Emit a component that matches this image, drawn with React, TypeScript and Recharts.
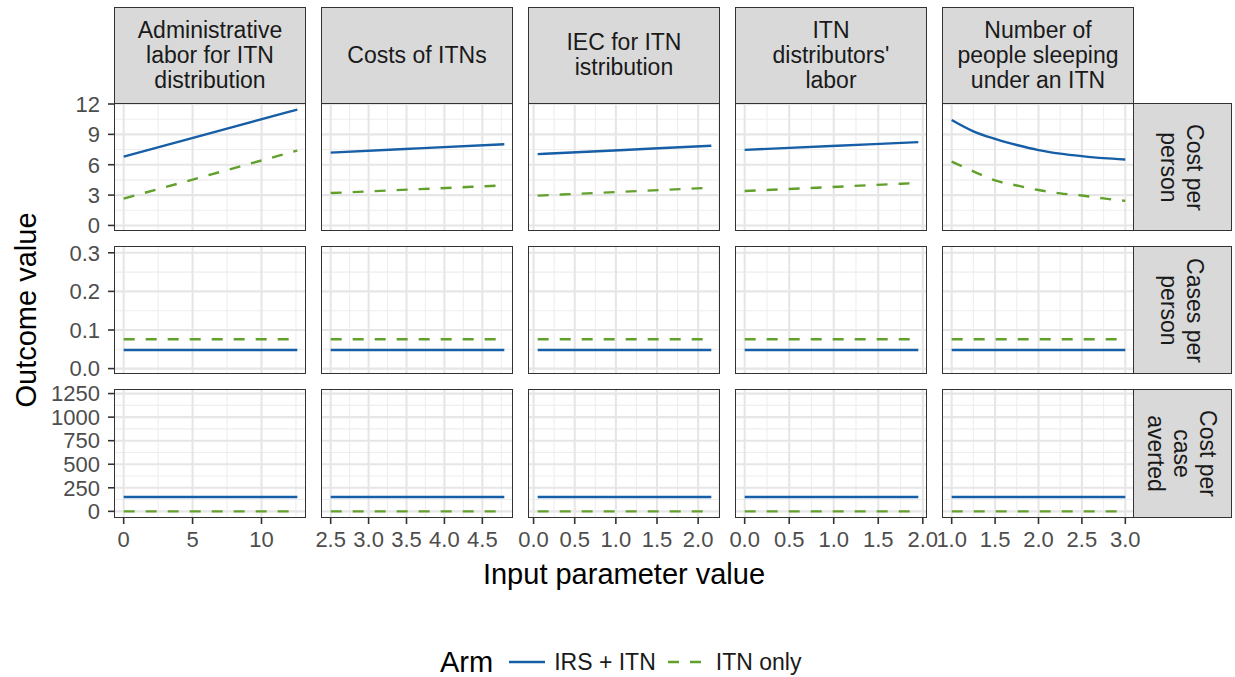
import React from "react";
import { LineChart, Line, XAxis, YAxis, CartesianGrid } from "recharts";

// ---------- labels ----------
const parameterLabels = [
  "Administrative\nlabor for ITN\ndistribution",
  "Costs of ITNs",
  "IEC for ITN\nistribution",
  "ITN\ndistributors'\nlabor",
  "Number of\npeople sleeping\nunder an ITN",
];
const outcomeLabels = ["Cost per\nperson", "Cases per\nperson", "Cost per\ncase\naverted"];
const armLabels = ["IRS + ITN", "ITN only"];

// ---------- input parameter values (x) per facet column ----------
const adminLaborX = [0, 6.3, 12.6];
const costsOfItnsX = [2.5, 3.65, 4.79];
const iecX = [0.05, 1.1, 2.16];
const distributorsLaborX = [0, 0.975, 1.95];
const peopleSleepingX = [1.0, 1.25, 1.5, 1.75, 2.0, 2.25, 2.5, 2.75, 3.0];

// ---------- Cost per person ----------
const adminLaborCostIRS = [6.8, 9.12, 11.45];
const adminLaborCostITN = [2.65, 5.02, 7.4];
const costsOfItnsCostIRS = [7.2, 7.62, 8.03];
const costsOfItnsCostITN = [3.2, 3.58, 3.96];
const iecCostIRS = [7.05, 7.46, 7.87];
const iecCostITN = [2.95, 3.34, 3.73];
const distributorsCostIRS = [7.47, 7.85, 8.23];
const distributorsCostITN = [3.41, 3.8, 4.2];
const sleepingCostIRS = [10.42, 9.3, 8.55, 7.95, 7.45, 7.1, 6.85, 6.65, 6.52];
const sleepingCostITN = [6.3, 5.35, 4.45, 3.95, 3.5, 3.17, 2.96, 2.67, 2.43];

// ---------- Cases per person (one value per parameter column) ----------
const casesPerPersonIRS = [0.048, 0.048, 0.048, 0.048, 0.048];
const casesPerPersonITN = [0.076, 0.076, 0.076, 0.076, 0.076];

// ---------- Cost per case averted (one value per parameter column) ----------
const costPerCaseAvertedIRS = [152, 152, 152, 152, 152];
const costPerCaseAvertedITN = [0, 0, 0, 0, 0];

// ---------- axis ticks ----------
const xTicks = [
  [0, 5, 10],
  [2.5, 3.0, 3.5, 4.0, 4.5],
  [0, 0.5, 1.0, 1.5, 2.0],
  [0, 0.5, 1.0, 1.5, 2.0],
  [1.0, 1.5, 2.0, 2.5, 3.0],
];
const xMinorTicks = [
  [2.5, 7.5, 12.5],
  [2.75, 3.25, 3.75, 4.25, 4.75],
  [0.25, 0.75, 1.25, 1.75, 2.25],
  [0.25, 0.75, 1.25, 1.75],
  [1.25, 1.75, 2.25, 2.75],
];
const xDomains: [number, number][] = [
  [-0.63, 13.23],
  [2.3855, 4.9045],
  [-0.0555, 2.2655],
  [-0.0975, 2.0475],
  [0.9, 3.1],
];
const yTicks = [
  [0, 3, 6, 9, 12],
  [0, 0.1, 0.2, 0.3],
  [0, 250, 500, 750, 1000, 1250],
];
const yMinorTicks = [
  [1.5, 4.5, 7.5, 10.5],
  [0.05, 0.15, 0.25],
  [125, 375, 625, 875, 1125],
];
const yDomains: [number, number][] = [
  [-0.45, 12.1],
  [-0.014, 0.315],
  [-60, 1288],
];

const columnX = [adminLaborX, costsOfItnsX, iecX, distributorsLaborX, peopleSleepingX];
const costIRS = [adminLaborCostIRS, costsOfItnsCostIRS, iecCostIRS, distributorsCostIRS, sleepingCostIRS];
const costITN = [adminLaborCostITN, costsOfItnsCostITN, iecCostITN, distributorsCostITN, sleepingCostITN];

function panelData(r: number, c: number) {
  const xs = columnX[c];
  return xs.map((x, i) => {
    if (r === 0) return { x, irs: costIRS[c][i], itn: costITN[c][i] };
    if (r === 1) return { x, irs: casesPerPersonIRS[c], itn: casesPerPersonITN[c] };
    return { x, irs: costPerCaseAvertedIRS[c], itn: costPerCaseAvertedITN[c] };
  });
}

// ---------- layout ----------
const COL_LEFT = [114.5, 321.5, 528.5, 735.5, 942.5];
const PW = 191;
const ROW_TOP = [103.3, 246.7, 390.2];
const PH = 127;
const Y_AXIS_W = 90;
const X_AXIS_H = 45;
const PAD = 24;
const STRIP_TOP = 7.3;
const STRIP_RIGHT_LEFT = 1134;
const STRIP_RIGHT_W = 97;

const BLUE = "#165ea6";
const GREEN = "#62a02c";
const BORDER = "#333333";
const FONT = "'Liberation Sans', Arial, Helvetica, sans-serif";

const fmtX = (c: number) => (v: number) => (c === 0 ? String(v) : v.toFixed(1));
const fmtY = (r: number) => (v: number) => (r === 1 ? v.toFixed(1) : String(v));

function Panel({ r, c }: { r: number; c: number }) {
  const showY = c === 0;
  const showX = r === 2;
  const leftPad = showY ? 0 : PAD;
  const w = leftPad + (showY ? Y_AXIS_W : 0) + PW + PAD;
  const h = PAD + PH + (showX ? X_AXIS_H : 0) + PAD;
  const tickStyle = { fill: "#4d4d4d", fontSize: 22, fontFamily: FONT };
  return (
    <div
      style={{
        position: "absolute",
        left: COL_LEFT[c] - (showY ? Y_AXIS_W : 0) - leftPad,
        top: ROW_TOP[r] - PAD,
        width: w,
        height: h,
      }}
    >
      <LineChart
        width={w}
        height={h}
        data={panelData(r, c)}
        margin={{ top: PAD, right: PAD, bottom: PAD, left: leftPad }}
      >
        <CartesianGrid
          stroke="#eeeeee"
          strokeWidth={1.1}
          fill="none"
          verticalValues={xMinorTicks[c]}
          horizontalValues={yMinorTicks[r]}
        />
        <CartesianGrid
          stroke="#e6e6e6"
          strokeWidth={2.1}
          fill="none"
          verticalValues={xTicks[c]}
          horizontalValues={yTicks[r]}
        />
        <XAxis
          type="number"
          dataKey="x"
          domain={xDomains[c]}
          ticks={xTicks[c]}
          allowDataOverflow
          interval={0}
          hide={!showX}
          height={X_AXIS_H}
          axisLine={false}
          tickLine={{ stroke: BORDER, strokeWidth: 1.6 }}
          tickSize={7}
          tickMargin={7}
          tick={tickStyle}
          tickFormatter={fmtX(c)}
        />
        <YAxis
          type="number"
          domain={yDomains[r]}
          ticks={yTicks[r]}
          allowDataOverflow
          interval={0}
          hide={!showY}
          width={Y_AXIS_W}
          axisLine={false}
          tickLine={{ stroke: BORDER, strokeWidth: 1.6 }}
          tickSize={7}
          tickMargin={8}
          tick={tickStyle}
          tickFormatter={fmtY(r)}
        />
        <Line
          type="monotone"
          dataKey="irs"
          name={armLabels[0]}
          stroke={BLUE}
          strokeWidth={2.4}
          dot={false}
          isAnimationActive={false}
        />
        <Line
          type="monotone"
          dataKey="itn"
          name={armLabels[1]}
          stroke={GREEN}
          strokeWidth={2.4}
          strokeDasharray="11 11"
          dot={false}
          isAnimationActive={false}
        />
      </LineChart>
    </div>
  );
}

function PanelBorder({ r, c }: { r: number; c: number }) {
  return (
    <div
      style={{
        position: "absolute",
        left: COL_LEFT[c] - 0.8,
        top: ROW_TOP[r] - 0.8,
        width: PW + 1.6,
        height: PH + 1.6,
        border: `1.6px solid ${BORDER}`,
        boxSizing: "border-box",
        pointerEvents: "none",
      }}
    />
  );
}

function TopStrip({ c }: { c: number }) {
  return (
    <div
      style={{
        position: "absolute",
        left: COL_LEFT[c] - 0.8,
        top: STRIP_TOP - 0.8,
        width: PW + 1.6,
        height: ROW_TOP[0] - STRIP_TOP + 1.6,
        background: "#d9d9d9",
        border: `1.6px solid ${BORDER}`,
        boxSizing: "border-box",
        display: "flex",
        alignItems: "center",
        justifyContent: "center",
        textAlign: "center",
        whiteSpace: "pre-line",
        fontFamily: FONT,
        fontSize: 23,
        lineHeight: "25px",
        color: "#1a1a1a",
      }}
    >
      {parameterLabels[c]}
    </div>
  );
}

function RightStrip({ r }: { r: number }) {
  const w = STRIP_RIGHT_W;
  return (
    <div
      style={{
        position: "absolute",
        left: STRIP_RIGHT_LEFT - 0.8,
        top: ROW_TOP[r] - 0.8,
        width: w + 1.6,
        height: PH + 1.6,
        background: "#d9d9d9",
        border: `1.6px solid ${BORDER}`,
        boxSizing: "border-box",
      }}
    >
      <div
        style={{
          position: "absolute",
          left: (w - PH) / 2,
          top: (PH - w) / 2,
          width: PH,
          height: w,
          transform: "rotate(90deg)",
          display: "flex",
          alignItems: "center",
          justifyContent: "center",
          textAlign: "center",
          whiteSpace: "pre-line",
          fontFamily: FONT,
          fontSize: 23,
          lineHeight: "26px",
          color: "#1a1a1a",
        }}
      >
        {outcomeLabels[r]}
      </div>
    </div>
  );
}

export default function App() {
  const rows = [0, 1, 2];
  const cols = [0, 1, 2, 3, 4];
  return (
    <div
      style={{
        position: "absolute",
        left: 0,
        top: 0,
        width: 1235,
        height: 677,
        background: "#ffffff",
        fontFamily: FONT,
        overflow: "hidden",
      }}
    >
      {rows.map((r) => cols.map((c) => <Panel key={`p${r}${c}`} r={r} c={c} />))}
      {rows.map((r) => cols.map((c) => <PanelBorder key={`b${r}${c}`} r={r} c={c} />))}
      {cols.map((c) => (
        <TopStrip key={`s${c}`} c={c} />
      ))}
      {rows.map((r) => (
        <RightStrip key={`rs${r}`} r={r} />
      ))}
      {/* y axis title */}
      <div
        style={{
          position: "absolute",
          left: 26 - 150,
          top: 310 - 18,
          width: 300,
          height: 36,
          transform: "rotate(-90deg)",
          textAlign: "center",
          fontSize: 29,
          lineHeight: "36px",
          color: "#000",
        }}
      >
        Outcome value
      </div>
      {/* x axis title */}
      <div
        style={{
          position: "absolute",
          left: 624 - 200,
          top: 556,
          width: 400,
          textAlign: "center",
          fontSize: 29,
          lineHeight: "36px",
          color: "#000",
        }}
      >
        Input parameter value
      </div>
      {/* legend */}
      <div
        style={{
          position: "absolute",
          left: 440,
          top: 644,
          height: 36,
          display: "flex",
          alignItems: "center",
          color: "#000",
          whiteSpace: "nowrap",
        }}
      >
        <span style={{ fontSize: 29, marginRight: 15 }}>Arm</span>
        <svg width={38} height={20} style={{ marginRight: 8 }}>
          <line x1={1} y1={10} x2={37} y2={10} stroke={BLUE} strokeWidth={2.4} />
        </svg>
        <span style={{ fontSize: 23, marginRight: 11, color: "#1a1a1a" }}>{armLabels[0]}</span>
        <svg width={36} height={20} style={{ marginRight: 13 }}>
          <line x1={1} y1={10} x2={35} y2={10} stroke={GREEN} strokeWidth={2.4} strokeDasharray="11 11" />
        </svg>
        <span style={{ fontSize: 23, color: "#1a1a1a" }}>{armLabels[1]}</span>
      </div>
    </div>
  );
}
